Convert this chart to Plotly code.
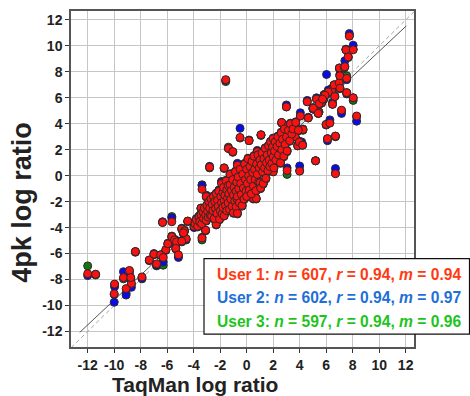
import plotly.graph_objects as go

# TaqMan log ratio for each gene (shared x), and the 4pk log ratio measured by each user
TAQMAN = [
    -12.0, -11.4, -9.97, -10.0, -9.3, -9.1, -8.85, -8.7, -8.75, -8.4,
    -7.9, -7.35, -7.0, -6.8, -6.5, -6.3, -6.1, -5.95, -6.35, -5.65,
    -5.65, -5.45, -5.3, -5.35, -5.15, -4.9, -4.7, -4.57, -4.45, -3.97,
    -3.65, -3.45, -3.37, -3.37, -3.1, -3.05, -2.8, -2.3, -1.7, -1.58,
    -1.38, -1.05, -0.7, -0.5, 0.18, 0.5, 0.72, 1.08, 0.8, 2.0,
    2.64, 3.0, 3.05, 3.1, 3.6, 3.65, 4.0, 4.05, 4.15, 3.85,
    4.25, 4.57, 4.65, 5.0, 5.2, 5.27, 5.45, 5.65, 5.8, 5.85,
    6.03, 6.0, 6.1, 6.28, 6.48, 6.4, 6.6, 6.65, 6.7, 6.7,
    6.98, 7.0, 7.03, 7.16, 7.36, 7.41, 7.49, 7.66, 7.55, 7.55,
    7.75, 8.04, 8.04, 8.3, 7.04, 6.16, 5.91, 5.48, 5.73, 5.03,
    5.4, 3.97, 4.22, -4.77, -4.9,
    -3.9, -3.8, -3.7, -3.6, -3.55, -3.45, -3.4, -3.3, -3.25, -3.2,
    -3.1, -3.05, -3.0, -2.95, -2.9, -2.85, -2.8, -2.75, -2.7, -2.65,
    -2.6, -2.55, -2.5, -2.45, -2.4, -2.35, -2.3, -2.25, -2.2, -2.15,
    -2.1, -2.05, -2.0,
    -1.95, -1.9, -1.9, -1.85, -1.8, -1.8, -1.75, -1.7, -1.7, -1.65,
    -1.6, -1.55, -1.5, -1.5, -1.45, -1.4, -1.4, -1.35, -1.3, -1.25,
    -1.25, -1.2, -1.15, -1.1, -1.05, -1.0, -1.0, -0.95, -0.9, -0.85,
    -0.8, -0.8, -0.75, -0.75, -0.7, -0.7, -0.65, -0.6, -0.55, -0.5,
    -0.45, -0.4, -0.35, -0.3, -0.25, -0.2, -0.15, -0.1, -0.05,
    0.0, 0.0, 0.05, 0.1, 0.15, 0.2, 0.25, 0.3, 0.35, 0.4,
    0.45, 0.5, 0.55, 0.6, 0.65, 0.7, 0.75, 0.8, 0.85, 0.9,
    0.95, 1.0, 1.0, 1.05, 1.1, 1.15, 1.2, 1.25, 1.3, 1.35,
    1.4, 1.45, 1.5, 1.55, 1.6, 1.65, 1.7, 1.75, 1.8, 1.85,
    1.9, 1.95, 2.0, 2.0,
    2.05, 2.1, 2.15, 2.2, 2.3, 2.35, 2.4, 2.5, 2.55, 2.6,
    2.65, 2.7, 2.8, 2.85, 2.9, 3.0, 3.05, 3.15, 3.25, 3.3,
    3.4, 3.5, 3.7, 3.9,
]

USER1 = [
    -7.55, -7.6, -8.35, -9.1, -7.85, -8.7, -7.3, -8.3, -7.85, -5.85,
    -7.8, -6.5, -6.05, -6.8, -6.1, -6.3, -5.7, -5.25, -3.6, -3.55,
    -4.7, -4.95, -5.1, -5.6, -6.1, -4.1, -4.25, -4.85, -3.5, -3.9,
    -3.8, -2.5, -1.05, -4.8, -4.2, -1.6, 0.65, -3.75, 0.6, 7.4,
    2.1, 1.85, 0.8, 2.95, 2.7, -1.75, -1.75, 3.15, 1.85, 0.3,
    4.1, 5.3, 0.4, 3.8, 3.75, 3.0, 0.35, 4.6, 2.4, 2.3,
    3.55, 5.7, 4.45, 5.15, 1.15, 5.9, 4.9, 5.6, 5.9, 6.25,
    6.3, 3.95, 2.85, 4.05, 5.5, 6.55, 7.0, 6.1, 3.05, 0.15,
    7.15, 8.3, 7.7, 5.05, 8.35, 8.4, 9.7, 9.15, 7.5, 6.4,
    10.75, 9.7, 6.0, 4.6, 6.75, 6.45, 6.2, 5.55, 5.9, 5.2,
    4.8, 2.6, 2.35, -4.4, -5.05,
    -3.7, -3.4, -3.9, -3.2, -3.55, -3.0, -3.7, -2.8, -3.3, -2.5,
    -3.0, -3.45, -2.3, -2.75, -3.2, -2.0, -2.5, -3.05, -1.8, -3.1,
    -2.2, -2.7, -1.6, -3.3, -2.0, -2.55, -1.4, -2.9, -1.9, -2.35,
    -1.2, -3.35, -2.7,
    -1.6, -0.6, -2.1, -2.95, -1.3, -2.45, -0.9, -1.9, -3.1, -1.5,
    -2.3, -0.4, -1.1, -2.7, -1.75, -0.75, -2.1, -1.4, -2.6, 0.1,
    -0.7, -1.8, -1.15, -2.35, -0.3, -1.5, -2.85, -0.9, -1.95, 0.3,
    -1.2, -2.4, -0.5, -1.75, -1.6, -2.9, -0.1, -1.0, -2.1, 0.5,
    -0.6, -1.45, -2.3, 0.1, -0.95, -1.8, 0.9, -0.3, -1.2,
    0.5, -1.6, -0.6, 1.3, 0.0, -1.1, 0.7, -0.3, -1.4, 1.1,
    0.25, -0.8, 1.5, 0.5, -0.3, -1.15, 0.9, 0.1, 1.6, -0.5,
    0.6, 1.2, -0.55, -0.95, 0.85, 1.75, 0.3, -0.6, 1.3, 0.6,
    2.1, -0.2, 1.0, 1.6, 0.4, 2.3, 1.2, 0.7, 2.6, 1.75,
    0.95, 2.2, 1.45, 2.85,
    0.6, 1.9, 2.6, 1.2, 2.25, 3.0, 1.6, 2.5, 1.0, 3.3,
    2.0, 2.8, 1.5, 3.6, 2.4, 3.0, 1.9, 3.5, 2.7, 4.0,
    3.2, 3.6, 4.1, 3.5,
]

USER2 = [
    -7.7, -7.6, -8.55, -9.75, -7.4, -9.2, -7.55, -8.6, -8.0, -5.85,
    -7.95, -6.5, -6.0, -6.9, -6.1, -6.65, -5.7, -5.2, -3.55, -3.25,
    -4.65, -4.9, -5.0, -5.55, -6.3, -4.05, -4.2, -4.95, -3.5, -4.0,
    -3.8, -2.5, -0.75, -4.75, -4.2, -1.5, 0.72, -3.7, 0.6, 7.35,
    2.1, 1.85, 0.95, 3.65, 2.7, -1.7, -1.75, 3.15, 1.95, 0.35,
    4.1, 5.45, 0.6, 3.8, 3.75, 3.0, 0.75, 4.85, 2.6, 2.3,
    3.6, 5.8, 4.5, 5.25, 1.15, 6.0, 4.9, 5.6, 5.9, 6.25,
    7.8, 3.95, 2.7, 4.3, 5.65, 6.7, 7.0, 6.1, 3.05, 0.55,
    7.1, 8.3, 7.8, 4.8, 8.35, 8.85, 9.75, 9.15, 7.4, 6.3,
    10.95, 10.05, 6.0, 4.2, 6.75, 6.6, 6.2, 5.55, 5.9, 5.2,
    4.8, 2.65, 2.4, -4.45, -5.0,
    -3.6, -3.3, -3.9, -3.1, -3.5, -2.95, -3.7, -2.7, -3.25, -2.45,
    -3.0, -3.4, -2.25, -2.7, -3.15, -1.95, -2.45, -3.0, -1.75, -3.1,
    -2.15, -2.65, -1.55, -3.3, -1.95, -2.5, -1.35, -2.85, -1.85, -2.3,
    -1.1, -3.3, -2.65,
    -1.55, -0.5, -2.05, -2.9, -1.25, -2.4, -0.85, -1.85, -3.05, -1.45,
    -2.25, -0.35, -1.05, -2.65, -1.7, -0.7, -2.05, -1.35, -2.55, 0.15,
    -0.65, -1.75, -1.1, -2.3, -0.25, -1.45, -2.8, -0.85, -1.9, 0.35,
    -1.15, -2.35, -0.45, -2.0, -1.55, -2.85, -0.05, -0.95, -2.05, 0.55,
    -0.55, -1.4, -2.25, 0.15, -0.9, -1.75, 0.95, -0.25, -1.15,
    0.55, -1.55, -0.55, 1.35, 0.05, -1.05, 0.75, -0.25, -1.35, 1.15,
    0.3, -0.75, 1.55, 0.55, -0.25, -1.1, 0.95, 0.15, 1.65, -0.45,
    0.65, 1.25, -0.7, -0.9, 0.9, 1.8, 0.35, -0.55, 1.35, 0.65,
    2.15, -0.15, 1.05, 1.65, 0.45, 2.35, 1.25, 0.75, 2.65, 1.8,
    1.0, 2.25, 1.5, 2.9,
    0.65, 1.95, 2.65, 1.25, 2.3, 3.05, 1.65, 2.55, 1.05, 3.35,
    2.05, 2.85, 1.55, 3.65, 2.45, 3.05, 1.95, 3.55, 2.75, 4.05,
    3.25, 3.65, 4.15, 3.55,
]

USER3 = [
    -6.95, -7.65, -8.4, -9.15, -7.95, -9.05, -7.35, -8.35, -7.9, -5.9,
    -7.85, -6.55, -6.1, -6.95, -6.15, -6.9, -5.75, -5.3, -3.6, -3.15,
    -4.75, -5.0, -5.15, -5.65, -6.2, -4.15, -4.3, -4.9, -3.55, -3.95,
    -3.85, -2.55, -0.7, -4.95, -4.25, -1.65, 0.6, -3.8, 0.55, 7.25,
    2.2, 1.8, 0.85, 2.9, 2.75, -1.8, -1.8, 3.1, 1.85, 0.3,
    4.05, 5.3, 0.1, 3.9, 3.7, 3.0, 0.4, 4.6, 2.45, 2.35,
    3.5, 5.7, 4.45, 5.15, 1.15, 5.9, 4.9, 5.6, 5.85, 6.2,
    6.3, 3.9, 2.85, 4.1, 5.5, 6.55, 6.95, 6.15, 3.0, 0.2,
    7.1, 8.25, 7.7, 5.0, 8.3, 8.4, 9.7, 9.1, 7.7, 6.4,
    10.8, 9.75, 5.8, 4.55, 6.7, 6.45, 6.2, 5.5, 5.9, 5.15,
    4.8, 2.6, 2.35, -4.45, -5.1,
    -3.75, -3.45, -3.95, -3.2, -3.6, -3.05, -3.75, -2.8, -3.35, -2.55,
    -3.0, -3.5, -2.35, -2.8, -3.2, -2.05, -2.5, -3.1, -1.85, -3.15,
    -2.25, -2.75, -1.65, -3.35, -2.0, -2.6, -1.45, -2.95, -1.9, -2.4,
    -1.2, -3.4, -2.75,
    -1.65, -0.45, -2.15, -3.0, -1.35, -2.5, -0.9, -1.95, -3.1, -1.55,
    -2.35, -0.45, -1.1, -2.75, -1.8, -0.8, -2.1, -1.45, -2.65, 0.05,
    -0.75, -1.85, -1.2, -2.4, -0.35, -1.55, -2.9, -0.95, -2.0, 0.25,
    -1.25, -2.45, -0.55, -1.8, -1.65, -2.95, -0.15, -1.05, -2.15, 0.45,
    -0.65, -1.5, -2.35, 0.05, -1.0, -1.85, 0.85, -0.35, -1.25,
    0.45, -1.65, -0.65, 1.25, -0.05, -1.15, 0.65, -0.35, -1.45, 1.05,
    0.2, -0.85, 1.45, 0.45, -0.35, -1.2, 0.85, 0.05, 1.55, -0.55,
    0.55, 1.15, -0.6, -1.0, 0.8, 1.7, 0.25, -0.65, 1.25, 0.55,
    2.05, -0.25, 0.95, 1.55, 0.35, 2.25, 1.15, 0.65, 2.55, 1.7,
    0.9, 2.15, 1.4, 2.8,
    0.55, 1.85, 2.55, 1.15, 2.2, 2.95, 1.55, 2.45, 0.95, 3.25,
    1.95, 2.75, 1.45, 3.55, 2.35, 2.95, 1.85, 3.45, 2.65, 3.95,
    3.15, 3.55, 4.05, 3.45,
]

TICKS = [-12, -10, -8, -6, -4, -2, 0, 2, 4, 6, 8, 10, 12]
TICK_LABELS = ["-12", "-10", "-8", "-6", "-4", "-2", "0", "2", "4", "6", "8", "10", "12"]

USER_STATS = [
    ("User 1", 607, 0.94, 0.94),
    ("User 2", 602, 0.94, 0.97),
    ("User 3", 597, 0.94, 0.96),
]

FIT_SLOPE = 0.958
FIT_X = [-12.6, 12.05]
IDENTITY_X = [-14, 14]

X_RANGE = [-13.26, 12.63]
Y_RANGE = [-13.2, 12.69]

MARKER_COLORS = {"User 1": "#ff1010", "User 2": "#0a0aee", "User 3": "#117711"}
TEXT_COLORS = {"User 1": "#ff3a12", "User 2": "#1e6fd8", "User 3": "#1ec41e"}
FONT = "Liberation Sans, Arial, sans-serif"

fig = go.Figure()

# identity line (dashed) and fitted line (solid)
fig.add_trace(go.Scatter(
    x=IDENTITY_X, y=IDENTITY_X, mode="lines",
    line=dict(color="#a8a8a8", width=1, dash="4px,3px"),
    hoverinfo="skip", showlegend=False,
))
fig.add_trace(go.Scatter(
    x=FIT_X, y=[FIT_SLOPE * v for v in FIT_X], mode="lines",
    line=dict(color="#555555", width=1),
    hoverinfo="skip", showlegend=False,
))

# green first, then blue, red on top
for name, ys in (("User 3", USER3), ("User 2", USER2), ("User 1", USER1)):
    fig.add_trace(go.Scatter(
        x=TAQMAN, y=ys, mode="markers", name=name,
        marker=dict(size=8, color=MARKER_COLORS[name],
                    line=dict(color="#2a2a2a", width=1)),
        showlegend=False,
    ))

axis_common = dict(
    tickmode="array", tickvals=TICKS, ticktext=TICK_LABELS,
    showgrid=True, gridcolor="#c6c6c6", gridwidth=1,
    zeroline=False,
    showline=True, linecolor="#555555", linewidth=1.5, mirror=True,
    ticks="outside", ticklen=4, tickwidth=1, tickcolor="#333333",
    tickfont=dict(family=FONT, size=14, color="#222222", weight="bold"),
)

fig.update_xaxes(range=X_RANGE, **axis_common)
fig.update_yaxes(range=Y_RANGE, **axis_common)

L, R, T, B = 71, 56, 9, 49
W, H = 470, 396
pw, ph = W - L - R, H - T - B


def px(xp):
    return (xp - L) / pw


def py(yp):
    return (H - B - yp) / ph


annotations = [
    dict(text="TaqMan log ratio", x=px(195), y=py(385), xref="paper", yref="paper",
         xanchor="center", yanchor="middle", showarrow=False,
         font=dict(family=FONT, size=21, color="#222222", weight="bold")),
    dict(text="4pk log ratio", x=px(22), y=py(202), xref="paper", yref="paper",
         xanchor="center", yanchor="middle", showarrow=False, textangle=-90,
         font=dict(family=FONT, size=27, color="#222222", weight="bold")),
]

for i, (name, n, r, m) in enumerate(USER_STATS):
    label = f"{name}: <i>n</i> = {n}, <i>r</i> = {r:.2f}, <i>m</i> = {m:.2f}"
    annotations.append(dict(
        text=label, x=px(215), y=py(274 + 23.5 * i), xref="paper", yref="paper",
        xanchor="left", yanchor="middle", showarrow=False,
        font=dict(family=FONT, size=15.6, color=TEXT_COLORS[name], weight="bold"),
    ))

fig.update_layout(
    width=W, height=H,
    margin=dict(l=L, r=R, t=T, b=B),
    paper_bgcolor="white", plot_bgcolor="white",
    annotations=annotations,
    shapes=[dict(type="rect", xref="paper", yref="paper",
                 x0=px(204), x1=px(469.5), y0=py(334), y1=py(258),
                 fillcolor="white", line=dict(color="#111111", width=1.2),
                 layer="above")],
)

fig.write_html("out.html")
